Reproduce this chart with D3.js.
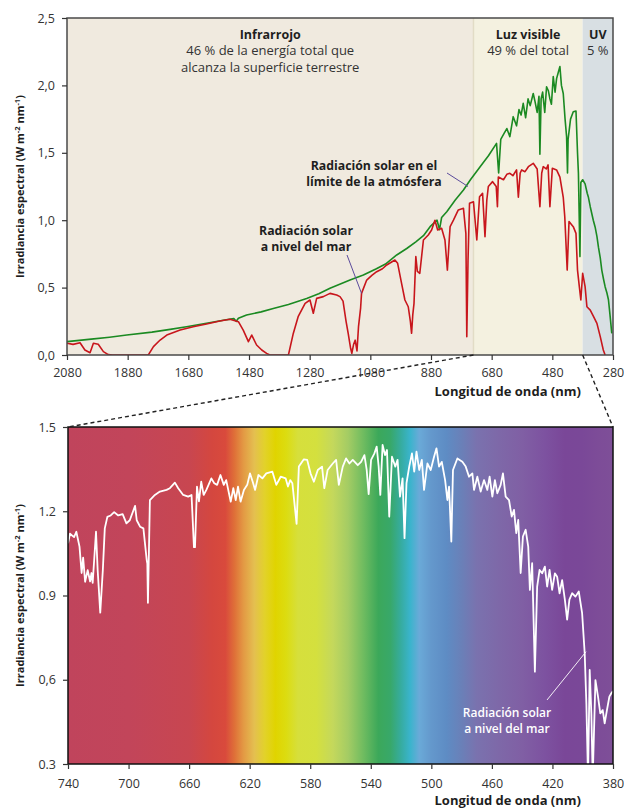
<!DOCTYPE html>
<html>
<head>
<meta charset="utf-8">
<script src="https://cdn.jsdelivr.net/npm/d3@7"></script>
<style>
  body { margin: 0; background: #fff; }
  svg { display: block; }
  text { font-family: "Open Sans", Lato, sans-serif; }
</style>
</head>
<body>
<div id="chart"></div>
<script>
// --- datos: espectro en el limite de la atmosfera (verde)
var toaWave = [2080,2000,1940,1883,1800,1740,1686,1620,1560,1530,
  1522,1515,1488,1440,1400,1350,1290,1250,1213,1147,
  1103,1060,1030,993,960,930,905,883,860,852,
  845,828,800,773,750,718,690,664,657,650,
  640,630,620,609,598,590,583,576,568,560,
  553,543,537,530,524,521,517,512,505,499,
  493,488,483,477,471,466,460,455,450,444,
  438,433,430,428,420,411,402,397,394,389,
  386,380,372,365,361,355,350,345,339,333,
  328,322,317,311,306,300,295,290,284];
var toaIrr = [0.099,0.118,0.132,0.148,0.170,0.190,0.210,0.235,0.260,0.270,
  0.250,0.272,0.297,0.320,0.345,0.375,0.420,0.455,0.495,0.556,
  0.593,0.640,0.675,0.742,0.790,0.840,0.885,0.952,1.000,0.930,
  1.020,1.063,1.150,1.224,1.300,1.397,1.480,1.570,1.350,1.600,
  1.640,1.680,1.620,1.768,1.700,1.820,1.780,1.867,1.760,1.900,
  1.850,1.940,1.880,1.800,1.920,1.490,1.900,1.950,1.800,1.990,
  1.960,1.900,1.860,2.065,1.950,2.050,2.100,2.140,2.000,1.940,
  1.750,1.620,1.350,1.600,1.750,1.805,1.810,1.500,1.348,0.730,
  1.280,1.300,1.270,1.200,1.170,1.100,1.050,1.000,0.950,0.880,
  0.800,0.720,0.630,0.560,0.507,0.460,0.410,0.300,0.160];

// --- espectro a nivel del mar (rojo)
var seaWave = [2080,2060,2037,2021,2004,1993,1977,1960,1944,1930,
  1812,1795,1773,1751,1707,1664,1620,1576,1543,1515,
  1499,1482,1471,1455,1438,1422,1411,1350,1334,1318,
  1295,1279,1268,1257,1235,1213,1191,1180,1170,1160,
  1153,1145,1141,1135,1130,1124,1119,1112,1109,1092,
  1075,1059,1040,1026,999,990,977,966,955,948,
  944,940,936,930,925,917,905,889,878,867,
  858,845,834,826,820,817,806,790,773,765,
  762,758,753,740,729,720,710,702,696,691,
  677,665,661,658,641,630,620,610,598,592,
  586,581,570,559,543,530,521,515,510,500,
  494,488,480,466,455,444,439,431,425,411,
  402,397,391,386,380,372,366,355,344,333,
  322,312,306];
var seaIrr = [0.087,0.079,0.091,0.037,0.017,0.087,0.080,0.025,0.003,0,
  0,0.062,0.111,0.148,0.185,0.210,0.230,0.252,0.265,0.247,
  0.185,0.099,0.148,0.074,0.037,0.012,0,0,0.160,0.284,
  0.383,0.408,0.310,0.420,0.433,0.457,0.445,0.433,0.400,0.250,
  0.160,0.050,0.012,0.080,0.110,0.030,0.210,0.350,0.457,0.556,
  0.590,0.618,0.640,0.668,0.705,0.680,0.532,0.408,0.358,0.250,
  0.161,0.300,0.383,0.730,0.620,0.606,0.853,0.890,0.927,1.000,
  0.927,0.940,0.853,0.630,0.850,0.952,1.000,1.076,1.088,0.900,
  0.136,0.700,1.125,1.137,0.853,1.174,1.200,0.878,1.150,1.250,
  1.286,1.250,1.100,1.320,1.300,1.340,1.348,1.330,1.373,1.170,
  1.350,1.373,1.360,1.397,1.422,1.380,1.100,1.350,1.397,1.380,
  1.410,1.100,1.385,1.373,1.320,1.170,1.026,0.630,0.990,0.952,
  0.902,0.630,0.507,0.408,0.606,0.507,0.358,0.333,0.284,0.235,
  0.136,0.037,0];

// --- detalle del visible a nivel del mar (blanco)
var visWave = [740,738.7,736,734.5,732.4,731,730,728.7,727,725.4,
  724.5,723.7,721.5,720.4,718.7,717,715.7,714,711.8,709.5,
  706.8,703.9,701.4,699.2,695.7,694.6,692.4,690.2,688,687.6,
  687.2,685.9,682.6,679.3,674.9,672.7,669.4,667.2,663.9,660.6,
  658.4,656.8,656.1,654.8,653.5,652,650.4,648.6,645.3,643.4,
  641.5,639.3,637.1,635.5,632.5,630.8,629.2,627.7,626,623.8,
  621.6,619.8,618,616.4,614.2,611.6,609,605,602.4,599.5,
  596.2,594.7,593.2,591.8,589,587.5,584.2,582,579.8,577.6,
  575,572.2,570.7,568.5,565.1,562.9,561.1,558.5,556.3,554.1,
  551.9,548.6,546.4,544.2,542.7,541.4,539.8,537.6,536.1,534.8,
  533.7,532.2,530.6,529.3,527.8,526,523.8,522.3,520.7,519,
  517.7,516.4,514.6,512.8,511.3,509.8,508,506.3,504.8,502.6,
  500.4,498.2,496.6,494.9,493.1,490.9,489.4,488.3,486.8,485.7,
  482.8,479.5,477.3,475.1,472.9,471.8,469.6,467.4,465.2,463,
  461.5,459.7,458,456.4,454.2,452.7,450.9,448.7,446.9,445.4,
  443.9,442.6,441,439.5,437.7,436,434.9,433.4,431.6,430.1,
  428.5,426.8,425,423.5,421.9,420.2,418.4,416.9,415.3,413.6,
  411.8,410.3,408.8,407,404.8,402.6,400.4,398.7,397.6,396.5,
  395.4,394.3,393.4,391.6,389.9,388.4,386.8,385.5,384,382.4,
  381.1,380];
var visIrr = [1.086,1.120,1.108,1.127,1.074,0.980,1.035,0.949,0.990,0.950,
  0.980,0.945,1.127,0.990,0.839,0.990,1.139,1.180,1.185,1.197,
  1.185,1.190,1.157,1.168,1.219,1.168,1.145,1.139,1.026,1.014,
  0.874,1.240,1.258,1.270,1.276,1.282,1.302,1.282,1.258,1.252,
  1.258,1.072,1.072,1.288,1.235,1.305,1.258,1.276,1.317,1.300,
  1.294,1.329,1.294,1.311,1.234,1.282,1.240,1.288,1.234,1.276,
  1.294,1.335,1.305,1.276,1.329,1.317,1.335,1.341,1.294,1.323,
  1.317,1.288,1.311,1.300,1.155,1.359,1.385,1.383,1.335,1.305,
  1.347,1.359,1.282,1.347,1.370,1.383,1.294,1.359,1.388,1.370,
  1.383,1.364,1.376,1.400,1.347,1.261,1.383,1.406,1.430,1.359,
  1.258,1.436,1.400,1.418,1.181,1.394,1.359,1.383,1.252,1.317,
  1.104,1.300,1.359,1.406,1.341,1.412,1.347,1.383,1.276,1.370,
  1.347,1.394,1.424,1.359,1.376,1.311,1.240,1.288,1.092,1.347,
  1.388,1.376,1.359,1.323,1.335,1.276,1.323,1.270,1.311,1.276,
  1.323,1.252,1.311,1.264,1.294,1.335,1.252,1.240,1.181,1.205,
  1.122,1.169,0.980,1.110,1.134,1.074,0.920,1.015,0.629,0.932,
  0.991,0.979,1.003,0.932,0.991,0.920,0.979,0.967,0.908,0.955,
  0.885,0.814,0.885,0.908,0.896,0.914,0.837,0.695,0.517,0.250,
  0.635,0.480,0.250,0.599,0.540,0.480,0.492,0.445,0.492,0.540,
  0.552,0.560];

// --- ejes y bandas
var xTicksTop = [2080,1880,1680,1480,1280,1080,880,680,480,280];
var yTicksTop = [0,0.5,1,1.5,2,2.5];
var yLabelsTop = ["0,0","0,5","1,0","1,5","2,0","2,5"];
var xTicksBot = [740,700,660,620,580,540,500,460,420,380];
var yTicksBot = [0.3,0.6,0.9,1.2,1.5];
var yLabelsBot = ["0.3","0,6","0.9","1.2","1.5"];

var bandEdges = [2080,740,380,280];
var bandNames = ["Infrarrojo","Luz visible","UV"];
var bandNotes = [["46 % de la energía total que","alcanza la superficie terrestre"],["49 % del total"],["5 %"]];

// colores del espectro visible
var specWave = [740,700,660,645,636,630,624,617,610,603,
  596,588,576,565,555,545,535,527,520,514,
  508,500,490,480,470,455,440,425,412,400,390,380];
var specColor = ["#c0445c","#c2455a","#c84650","#d4473f","#d94a3c","#df7038","#e39a44","#e4bf50","#e2d22a","#e0d400",
  "#dcdc10","#d6df3c","#d4e03e","#c4d85c","#a4cc64","#70bc60","#3ca85a","#38a86a","#36aca0","#3ab4cc",
  "#6aaad8","#6498cc","#5e8cc4","#6a80b8","#7a72ae","#7e68a8","#805fa4","#7d52a0","#7a4798","#7a4898","#7d4c98","#7e4f98"];

var BAND_COLORS = ["#f0eadf","#f4f1e0","#d8dfe3"];
var GREEN = "#1b8a22", RED = "#c8161c";

var svg = d3.select("#chart").append("svg").attr("width", 624).attr("height", 808);
var defs = svg.append("defs");

/* ---------- grafico superior ---------- */
var T = {l: 67, r: 613, t: 18, b: 355};
var xT = d3.scaleLinear().domain([2080, 280]).range([T.l, T.r]);
var yT = d3.scaleLinear().domain([0, 2.5]).range([T.b, T.t]);

var gT = svg.append("g");
for (var i = 0; i < bandNames.length; i++) {
  gT.append("rect")
    .attr("x", xT(bandEdges[i])).attr("y", T.t)
    .attr("width", xT(bandEdges[i+1]) - xT(bandEdges[i])).attr("height", T.b - T.t)
    .attr("fill", BAND_COLORS[i]);
}
gT.append("line").attr("x1", xT(740)).attr("x2", xT(740)).attr("y1", T.t).attr("y2", T.b)
  .attr("stroke", "#e2dcc6").attr("stroke-width", 1.5);

defs.append("clipPath").attr("id", "clipTop").append("rect")
  .attr("x", T.l).attr("y", T.t).attr("width", T.r - T.l).attr("height", T.b - T.t);

var lineToa = d3.line().x(function(d, i) { return xT(toaWave[i]); }).y(function(d) { return yT(d); });
var lineSea = d3.line().x(function(d, i) { return xT(seaWave[i]); }).y(function(d) { return yT(d); });

var plotT = gT.append("g").attr("clip-path", "url(#clipTop)");
plotT.append("path").attr("d", lineToa(toaIrr)).attr("fill", "none")
  .attr("stroke", GREEN).attr("stroke-width", 1.6).attr("stroke-linejoin", "round");
plotT.append("path").attr("d", lineSea(seaIrr)).attr("fill", "none")
  .attr("stroke", RED).attr("stroke-width", 1.6).attr("stroke-linejoin", "round");

// textos de las bandas
for (var j = 0; j < bandNames.length; j++) {
  var cx = (xT(bandEdges[j]) + xT(bandEdges[j+1])) / 2;
  gT.append("text").attr("x", cx).attr("y", 38.5).attr("text-anchor", "middle")
    .attr("font-size", 12.5).attr("font-weight", 700).attr("fill", "#1e1e1e").text(bandNames[j]);
  bandNotes[j].forEach(function(s, k) {
    gT.append("text").attr("x", cx).attr("y", 55 + k * 16.5).attr("text-anchor", "middle")
      .attr("font-size", 13).attr("fill", "#333").text(s);
  });
}

// anotaciones
function note(g, x, y, lines, color, weight, size) {
  lines.forEach(function(s, k) {
    g.append("text").attr("x", x).attr("y", y + k * 16).attr("text-anchor", "middle")
      .attr("font-size", size).attr("font-weight", weight).attr("fill", color).text(s);
  });
}
note(gT, 374, 170, ["Radiación solar en el", "límite de la atmósfera"], "#1e1e1e", 700, 12.3);
note(gT, 306, 235, ["Radiación solar", "a nivel del mar"], "#1e1e1e", 700, 12.3);
gT.append("line").attr("x1", 447).attr("y1", 173).attr("x2", xT(758)).attr("y2", yT(1.25))
  .attr("stroke", "#5b4b9c").attr("stroke-width", 1);
gT.append("line").attr("x1", 347).attr("y1", 255).attr("x2", xT(1109)).attr("y2", yT(0.457))
  .attr("stroke", "#5b4b9c").attr("stroke-width", 1);

gT.append("rect").attr("x", T.l).attr("y", T.t).attr("width", T.r - T.l).attr("height", T.b - T.t)
  .attr("fill", "none").attr("stroke", "#4a4a4a").attr("stroke-width", 1.5);

var axT = gT.append("g").attr("transform", "translate(0," + T.b + ")")
  .call(d3.axisBottom(xT).tickValues(xTicksTop).tickSize(5).tickPadding(8.5).tickFormat(d3.format("d")));
var ayT = gT.append("g").attr("transform", "translate(" + T.l + ",0)")
  .call(d3.axisLeft(yT).tickValues(yTicksTop).tickSize(5).tickPadding(7)
    .tickFormat(function(d, i) { return yLabelsTop[i]; }));

/* ---------- grafico inferior ---------- */
var B = {l: 68, r: 613, t: 427, b: 764};
var xB = d3.scaleLinear().domain([740, 380]).range([B.l, B.r]);
var yB = d3.scaleLinear().domain([0.3, 1.5]).range([B.b, B.t]);

var grad = defs.append("linearGradient").attr("id", "spectrum")
  .attr("gradientUnits", "userSpaceOnUse")
  .attr("x1", xB(740)).attr("x2", xB(380)).attr("y1", 0).attr("y2", 0);
specWave.forEach(function(w, i) {
  grad.append("stop").attr("offset", (xB(w) - B.l) / (B.r - B.l)).attr("stop-color", specColor[i]);
});

defs.append("clipPath").attr("id", "clipBot").append("rect")
  .attr("x", B.l).attr("y", B.t).attr("width", B.r - B.l).attr("height", B.b - B.t);

var gB = svg.append("g");
gB.append("rect").attr("x", B.l).attr("y", B.t).attr("width", B.r - B.l).attr("height", B.b - B.t)
  .attr("fill", "url(#spectrum)");

var lineVis = d3.line().x(function(d, i) { return xB(visWave[i]); }).y(function(d) { return yB(d); });
gB.append("g").attr("clip-path", "url(#clipBot)").append("path")
  .attr("d", lineVis(visIrr)).attr("fill", "none").attr("stroke", "#fff")
  .attr("stroke-width", 1.8).attr("stroke-linejoin", "round");

note(gB, 507, 716.5, ["Radiación solar", "a nivel del mar"], "#fff", 600, 12);
gB.append("line").attr("x1", 547).attr("y1", 700).attr("x2", xB(397.8)).attr("y2", yB(0.70))
  .attr("stroke", "#fff").attr("stroke-width", 0.9);

gB.append("rect").attr("x", B.l).attr("y", B.t).attr("width", B.r - B.l).attr("height", B.b - B.t)
  .attr("fill", "none").attr("stroke", "#111").attr("stroke-width", 1.5);

var axB = gB.append("g").attr("transform", "translate(0," + B.b + ")")
  .call(d3.axisBottom(xB).tickValues(xTicksBot).tickSize(5).tickPadding(9.8).tickFormat(d3.format("d")));
var ayB = gB.append("g").attr("transform", "translate(" + B.l + ",0)")
  .call(d3.axisLeft(yB).tickValues(yTicksBot).tickSize(5).tickPadding(7)
    .tickFormat(function(d, i) { return yLabelsBot[i]; }));

[axT, ayT, axB, ayB].forEach(function(a) {
  a.select(".domain").remove();
  a.selectAll(".tick line").attr("stroke", "#333").attr("stroke-width", 1.2);
  a.selectAll(".tick text").attr("font-size", 12.5).attr("fill", "#333")
    .attr("font-family", "'Open Sans', Lato, sans-serif");
});

// titulos de ejes
function yTitle(cy) {
  var t = svg.append("text").attr("transform", "translate(24," + cy + ") rotate(-90)")
    .attr("text-anchor", "middle").attr("font-size", 11).attr("font-weight", 700).attr("fill", "#1e1e1e");
  t.append("tspan").text("Irradiancia espectral (W m");
  t.append("tspan").attr("dy", -4).attr("font-size", 7.5).text("-2");
  t.append("tspan").attr("dy", 4).text(" nm");
  t.append("tspan").attr("dy", -4).attr("font-size", 7.5).text("-1");
  t.append("tspan").attr("dy", 4).text(")");
}
yTitle((T.t + T.b) / 2);
yTitle((B.t + B.b) / 2);

function xTitle(y) {
  svg.append("text").attr("x", 581).attr("y", y).attr("text-anchor", "end")
    .attr("font-size", 13).attr("font-weight", 700).attr("fill", "#1e1e1e").text("Longitud de onda (nm)");
}
xTitle(396);
xTitle(805);

// lineas de zoom entre los graficos
[[740, 740], [380, 380]].forEach(function(p) {
  svg.append("line")
    .attr("x1", xT(p[0])).attr("y1", T.b)
    .attr("x2", xB(p[1])).attr("y2", B.t)
    .attr("stroke", "#222").attr("stroke-width", 1.4).attr("stroke-dasharray", "4,3");
});
</script>
</body>
</html>
